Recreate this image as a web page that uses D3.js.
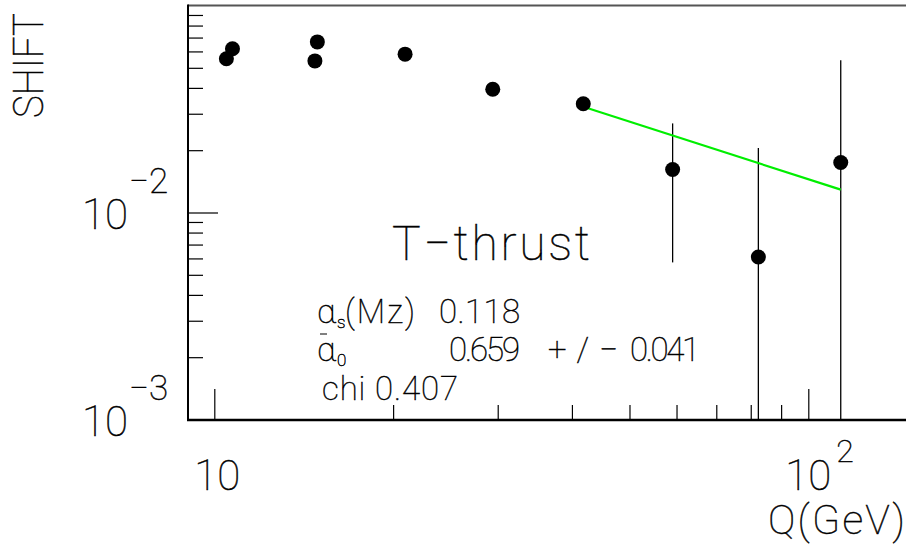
<!DOCTYPE html>
<html>
<head>
<meta charset="utf-8">
<script src="https://cdn.jsdelivr.net/npm/d3@7"></script>
<style>
  html, body { margin: 0; padding: 0; background: #fff; }
  svg { display: block; }
  text { font-family: Roboto, "DejaVu Sans", sans-serif; font-weight: 100; fill: #000; stroke: #000; stroke-width: 0.45; }
</style>
</head>
<body>
<svg id="chart" width="906" height="544"></svg>
<script>
// Shift versus centre-of-mass energy, T-thrust
const energies = [10.48, 10.73, 14.77, 14.91, 20.95, 29.43, 41.8, 59.1, 82.4, 113.4];
const shifts   = [0.0553, 0.0618, 0.0540, 0.0667, 0.0582, 0.0394, 0.0335, 0.01614, 0.0061, 0.01744];
const errHigh  = [0, 0, 0, 0, 0, 0, 0, 0.0108, 0.0144, 0.0370];
const errLow   = [0, 0, 0, 0, 0, 0, 0, 0.0104, 0.0144, 0.0370];

// power-law fit over the upper energy range
const fitEnergies = [41.8, 113.4];
const fitShifts   = [0.0324, 0.0129];

const xMinorTicks = [20, 30, 40, 50, 60, 70, 80, 90];
const xMajorTicks = [10, 100];
const yMinorTicks = [2e-3, 3e-3, 4e-3, 5e-3, 6e-3, 7e-3, 8e-3, 9e-3,
                     2e-2, 3e-2, 4e-2, 5e-2, 6e-2, 7e-2, 8e-2, 9e-2];
const yMajorTicks = [1e-3, 1e-2];
const xTickLabels = [{v: 10, base: "10", exp: ""}, {v: 100, base: "10", exp: "2"}];
const yTickLabels = [{v: 1e-3, base: "10", exp: "\u22123"}, {v: 1e-2, base: "10", exp: "\u22122"}];

const W = 906, H = 544;
const frame = {left: 188, top: 5.5, bottom: 420, right: W};

const x = d3.scaleLog().domain([10, 100]).range([214.3, 808.3]);
const y = d3.scaleLog().domain([1e-3, 1e-1]).range([419.5, 5.5]);

const svg = d3.select("#chart");

// frame: top edge
svg.append("line")
  .attr("x1", frame.left).attr("x2", frame.right)
  .attr("y1", frame.top).attr("y2", frame.top)
  .attr("stroke", "#555").attr("stroke-width", 2);

// y axis ticks (pointing into the plot)
function yAxis(values, size) {
  svg.append("g")
    .attr("transform", `translate(${frame.left},0)`)
    .call(d3.axisRight(y).tickValues(values).tickSize(size).tickSizeOuter(0).tickFormat(""))
    .call(g => g.select(".domain").remove())
    .call(g => g.selectAll("line").attr("stroke", "#000").attr("stroke-width", 1.2));
}
yAxis(yMinorTicks, 15);
yAxis(yMajorTicks, 30);

// x axis ticks (pointing up into the plot)
function xAxis(values, size) {
  svg.append("g")
    .attr("transform", `translate(0,${frame.bottom})`)
    .call(d3.axisTop(x).tickValues(values).tickSize(size).tickSizeOuter(0).tickFormat(""))
    .call(g => g.select(".domain").remove())
    .call(g => g.selectAll("line").attr("stroke", "#000").attr("stroke-width", 1.2));
}
xAxis(xMinorTicks, 15);
xAxis(xMajorTicks, 31);

// axis lines
svg.append("line")
  .attr("x1", frame.left).attr("x2", frame.left)
  .attr("y1", frame.top - 1).attr("y2", frame.bottom + 1)
  .attr("stroke", "#000").attr("stroke-width", 2);
svg.append("line")
  .attr("x1", frame.left - 1).attr("x2", frame.right)
  .attr("y1", frame.bottom).attr("y2", frame.bottom)
  .attr("stroke", "#000").attr("stroke-width", 2.5);

// tick labels
yTickLabels.forEach(d => {
  const yy = y(d.v);
  svg.append("text").attr("x", 128).attr("y", yy + 16)
    .attr("text-anchor", "end").attr("font-size", 42).text(d.base);
  svg.append("text").attr("x", 129).attr("y", yy - 19.5)
    .attr("font-size", 35).text(d.exp);
});
xTickLabels.forEach(d => {
  const xx = x(d.v);
  svg.append("text").attr("x", d.exp ? xx : xx + 3).attr("y", 490)
    .attr("text-anchor", "middle").attr("font-size", 42).text(d.base);
  if (d.exp) {
    svg.append("text").attr("x", xx + 28).attr("y", 462)
      .attr("font-size", 32).text(d.exp);
  }
});

// axis titles
svg.append("text").attr("x", 905).attr("y", 534)
  .attr("text-anchor", "end").attr("font-size", 41)
  .attr("textLength", 137).attr("lengthAdjust", "spacing").text("Q(GeV)");
svg.append("text")
  .attr("transform", "translate(43,118) rotate(-90)")
  .attr("font-size", 42).attr("textLength", 105).attr("lengthAdjust", "spacingAndGlyphs")
  .text("SHIFT");

// error bars
const clipBottom = v => (v <= y.domain()[0] ? frame.bottom : Math.min(frame.bottom, y(v)));
svg.append("g").selectAll("line")
  .data(energies.map((q, i) => ({q, v: shifts[i], hi: errHigh[i], lo: errLow[i]})).filter(d => d.hi > 0))
  .join("line")
  .attr("x1", d => x(d.q)).attr("x2", d => x(d.q))
  .attr("y1", d => y(d.v + d.hi))
  .attr("y2", d => clipBottom(d.v - d.lo))
  .attr("stroke", "#000").attr("stroke-width", 1.3);

// fit curve
svg.append("path")
  .datum(fitEnergies.map((q, i) => [q, fitShifts[i]]))
  .attr("d", d3.line().x(d => x(d[0])).y(d => y(d[1])))
  .attr("fill", "none").attr("stroke", "#00ee00").attr("stroke-width", 2.2);

// data points
svg.append("g").selectAll("circle")
  .data(energies.map((q, i) => [q, shifts[i]]))
  .join("circle")
  .attr("cx", d => x(d[0])).attr("cy", d => y(d[1]))
  .attr("r", 7.5).attr("fill", "#000");

// annotations
svg.append("text").attr("x", 392).attr("y", 260)
  .attr("font-size", 48).attr("textLength", 198).attr("lengthAdjust", "spacing")
  .text("T\u2212thrust");

const ann = svg.append("g").attr("font-size", 33);
// line 1: alpha_s(Mz)
ann.append("text").attr("x", 317).attr("y", 323).attr("font-size", 34).text("\u03b1");
ann.append("text").attr("x", 337).attr("y", 328).attr("font-size", 17).text("s");
ann.append("text").attr("x", 345).attr("y", 323).attr("textLength", 70).attr("lengthAdjust", "spacing").text("(Mz)");
ann.append("text").attr("x", 439).attr("y", 323).attr("textLength", 81).attr("lengthAdjust", "spacing").text("0.118");
// line 2: mean alpha_0
ann.append("text").attr("x", 317).attr("y", 361).attr("font-size", 34).text("\u03b1");
ann.append("line").attr("x1", 320).attr("x2", 327).attr("y1", 334).attr("y2", 334)
  .attr("stroke", "#000").attr("stroke-width", 1);
ann.append("text").attr("x", 337).attr("y", 366).attr("font-size", 17).text("0");
ann.append("text").attr("x", 449).attr("y", 361).attr("textLength", 71).attr("lengthAdjust", "spacing").text("0.659");
ann.append("text").attr("x", 548).attr("y", 361).attr("textLength", 70).attr("lengthAdjust", "spacing").text("+/\u2212");
ann.append("text").attr("x", 630).attr("y", 361).attr("textLength", 70).attr("lengthAdjust", "spacing").text("0.041");
// line 3: chi
ann.append("text").attr("x", 322).attr("y", 400).attr("textLength", 136).attr("lengthAdjust", "spacing").text("chi 0.407");
</script>
</body>
</html>
